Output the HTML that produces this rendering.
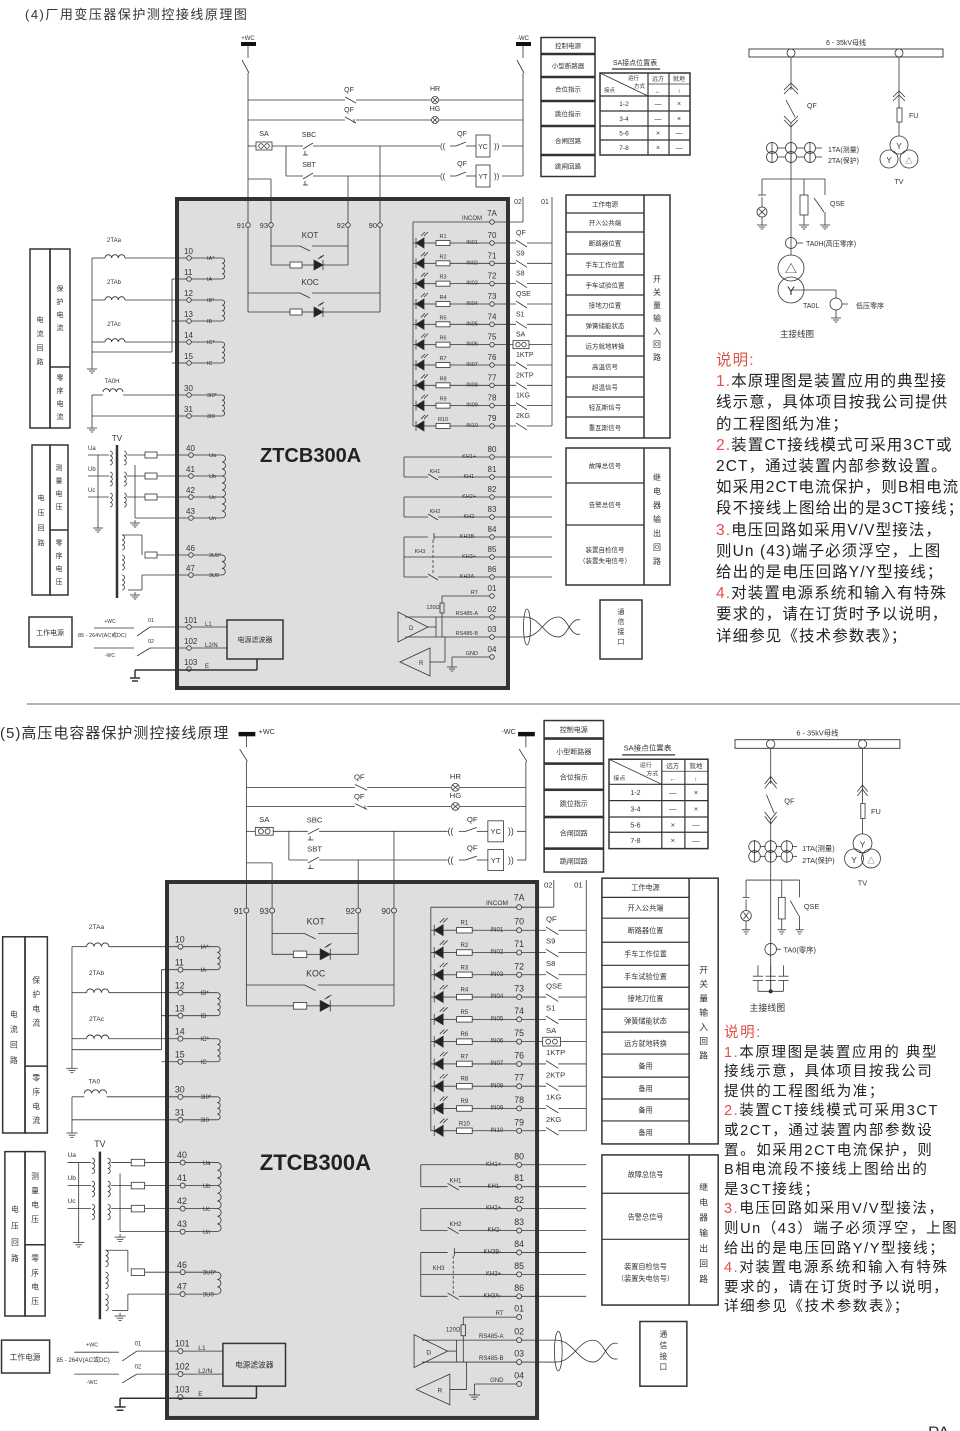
<!DOCTYPE html>
<html><head><meta charset="utf-8">
<style>
html,body{margin:0;padding:0;background:#fff;}
svg{display:block;font-family:"Liberation Sans","Noto Sans CJK SC",sans-serif;}
.n{position:absolute;font-family:"Liberation Sans","Noto Sans CJK SC",sans-serif;color:#222;white-space:pre;}
.r{color:#e0504a;}
</style></head>
<body>
<div style="position:relative;width:960px;height:1431px;overflow:hidden;">
<svg id="s" width="960" height="1431" viewBox="0 0 960 1431" xmlns="http://www.w3.org/2000/svg">
<text x="25" y="19" font-size="13" fill="#333" letter-spacing="1.5">(4)厂用变压器保护测控接线原理图</text>
<line x1="27" y1="704" x2="960" y2="704" stroke="#999" stroke-width="1.5"/>
<text x="0" y="738" font-size="15" fill="#333" letter-spacing="1">(5)高压电容器保护测控接线原理</text>
<text x="928" y="1438" font-size="17" fill="#333">PA</text>
</svg>
<div class="n" style="left:716px;top:350px;font-size:15.5px;line-height:21.2px;letter-spacing:1.1px;"><span class="r">说明:</span>
<span class="r">1.</span>本原理图是装置应用的典型接
线示意，具体项目按我公司提供
的工程图纸为准；
<span class="r">2.</span>装置CT接线模式可采用3CT或
2CT，通过装置内部参数设置。
如采用2CT电流保护，则B相电流
段不接线上图给出的是3CT接线；
<span class="r">3.</span>电压回路如采用V/V型接法，
则Un (43)端子必须浮空，上图
给出的是电压回路Y/Y型接线；
<span class="r">4.</span>对装置电源系统和输入有特殊
要求的，请在订货时予以说明，
详细参见《技术参数表》；</div>
<div class="n" style="left:724px;top:1024px;font-size:14.5px;line-height:19.6px;letter-spacing:1.6px;"><span class="r">说明:</span>
<span class="r">1.</span>本原理图是装置应用的 典型
接线示意，具体项目按我公司
提供的工程图纸为准；
<span class="r">2.</span>装置CT接线模式可采用3CT
或2CT，通过装置内部参数设
置。如采用2CT电流保护，则
B相电流段不接线上图给出的
是3CT接线；
<span class="r">3.</span>电压回路如采用V/V型接法，
则Un（43）端子必须浮空，上图
给出的是电压回路Y/Y型接线；
<span class="r">4.</span>对装置电源系统和输入有特殊
要求的，请在订货时予以说明，
详细参见《技术参数表》；</div>
</div>
<script>
const NS='http://www.w3.org/2000/svg',svg=document.getElementById('s');
function el(t,a,x){const e=document.createElementNS(NS,t);for(const k in a)e.setAttribute(k,a[k]);if(x!=null)e.textContent=x;svg.appendChild(e);return e;}
function mk(X,Y,k){
 const o={};
 o.L=(a,b,c,d,w,dash)=>{const at={x1:X(a),y1:Y(b),x2:X(c),y2:Y(d),stroke:'#333','stroke-width':w||0.8};if(dash)at['stroke-dasharray']=dash;return el('line',at);};
 o.R=(x,y,w,h,sw,f)=>el('rect',{x:X(x),y:Y(y),width:X(x+w)-X(x),height:Y(y+h)-Y(y),fill:f||'none',stroke:'#333','stroke-width':sw||0.8});
 o.C=(x,y,r,f,sw)=>el('circle',{cx:X(x),cy:Y(y),r:r*k,fill:f||'none',stroke:'#333','stroke-width':sw||0.8});
 o.T=(x,y,s,fs,an,ex)=>{const at={x:X(x),y:Y(y),'font-size':fs*k,'text-anchor':an||'start',fill:'#333'};if(ex)Object.assign(at,ex);return el('text',at,s);};
 o.V=(x,y,s,fs,st)=>{for(let i=0;i<s.length;i++)o.T(x,y+i*st,s[i],fs,'middle');};
 o.PG=(pts,f)=>el('polygon',{points:pts.map(p=>X(p[0])+','+Y(p[1])).join(' '),fill:f||'none',stroke:'#333','stroke-width':0.8});
 o.coil=(x,y1,y2,n)=>{n=n||4;const d=(Y(y2)-Y(y1))/n;let p='M'+X(x)+','+Y(y1);for(let i=0;i<n;i++)p+=' a'+d/2+','+d/2+' 0 0 1 0,'+d;el('path',{d:p,fill:'none',stroke:'#333','stroke-width':0.8});};
 o.ct=(x,y,n)=>{n=n||3;const w=(X(x+20)-X(x))/n;let p='M'+X(x)+','+Y(y);for(let i=0;i<n;i++)p+=' a'+w/2+','+w/2+' 0 0 1 '+w+',0';el('path',{d:p,fill:'none',stroke:'#333','stroke-width':0.9});};
 o.G=(x,y)=>{o.L(x,y,x,y+3);o.L(x-5,y+3,x+5,y+3);o.L(x-3,y+5,x+3,y+5);o.L(x-1.3,y+7,x+1.3,y+7);};
 return o;
}
function panel(X,Y,k,b){
 const {L,R,C,T,V,PG,coil,ct,G}=mk(X,Y,k);
 const RW=b?498:523, s=b?-12:0;
 R(177,199,331,489,4,'#dedede');
 el('rect',{x:X(241),y:Y(42),width:X(256)-X(241),height:4*k,fill:'#111'});
 el('rect',{x:X(RW-7),y:Y(42),width:X(RW+8)-X(RW-7),height:4*k,fill:'#111'});
 if(!b){T(248,40,'+WC',6,'middle');T(RW,40,'-WC',6,'middle');}
 else{T(259,44,'+WC',6.5);T(RW-9,44,'-WC',6.5,'end');}
 L(248,46,248,58);L(242,60,249,73);L(248,73,248,312);
 L(RW,46,RW,58);L(RW-6,60,RW+1,73);L(RW,73,RW,176);
 [[100,'HR'],[120,'HG']].forEach(([y,h],i)=>{L(248,y,345,y);L(345,y-3,356,y+3);if(i)L(354,y+3,354,y-1);L(356,y,431,y);C(435,y,3.5);L(432.5,y-2.5,437.5,y+2.5);L(432.5,y+2.5,437.5,y-2.5);L(439,y,RW,y);T(349,y-8,'QF',7,'middle');T(435,y-9,h,7,'middle');});
 L(248,146,256,146);R(256,142,16,8,0.8,'#fff');C(261,146,2.3);C(267,146,2.3);T(264,136,'SA',7,'middle');
 L(272,146,303,146);L(303,149,313,143);L(305,151,305,155);L(303,155,308,155);T(309,137,'SBC',7,'middle');
 [[146,'YC',135],[176,'YT',165]].forEach(([y,t,yt])=>{L(313,y,440+s,y);T(440+s,y+3,'((',8);L(450+s,y,456+s,y);L(456+s,y,466+s,y-4);L(466+s,y,476+s,y);T(462+s,yt+1,'QF',7,'middle');
  R(476+s,yt,14,22,0.8,'#fff');T(483+s,y+3,t,7,'middle');T(494+s,y+3,'))',8);L(502+s,y,RW,y);});
 L(286,146,286,176);L(286,176,303,176);L(303,179,313,173);L(305,181,305,185);L(303,185,308,185);T(309,167,'SBT',7,'middle');
 L(380,146,380,312);L(348,176,348,265);L(248,179,271,179);L(271,179,271,265);
 [[248,'91'],[271,'93'],[348,'92'],[380,'90']].forEach(([x,t])=>{C(x,225,2.3,'#dedede');T(x-3,228,t,7.5,'end');});
 const rel=(x1,x2,y,yd,lab)=>{L(x1,y,300,y);L(300,y,310,y+5);L(312,y,x2,y);T(310,y-8,lab,8,'middle');
  L(x1,yd,290,yd);R(290,yd-3,12,6,0.8,'#fff');L(302,yd,314,yd);PG([[314,yd-5],[314,yd+5],[323,yd]],'#222');L(323,yd-5,323,yd+5);L(323,yd,x2,yd);L(320,yd-7,324,yd-10);L(318,yd-6,322,yd-9);};
 rel(271,348,246,265,'KOT');rel(248,380,293,312,'KOC');
 const cur=[[10,258,'IA*'],[11,279,'IA'],[12,300,'IB*'],[13,321,'IB'],[14,342,'IC*'],[15,363,'IC']];
 cur.forEach(([n,y,s])=>{C(189,y,2.3,'#dedede');T(184,y-4,String(n),8);T(207,y+2,s,5.5);L(191,y,222,y);});
 coil(222,258,279);coil(222,300,321);coil(222,342,363);
 [[258,'2TAa'],[300,'2TAb'],[342,'2TAc']].forEach(([y,t])=>{L(92,y,105,y);ct(105,y);L(125,y,187,y);T(114,y-16,t,6,'middle');});
 L(92,258,92,366);G(92,366);L(92,352,172,352);L(172,279,172,352);L(172,279,187,279);L(172,321,187,321);L(172,363,187,363);
 C(189,395,2.3,'#dedede');T(184,391,'30',8);T(207,397,'3I0*',5.5);C(189,416,2.3,'#dedede');T(184,412,'31',8);T(207,418,'3I0',5.5);
 L(191,395,222,395);L(191,416,222,416);coil(222,395,416);
 L(92,395,103,395);ct(103,392);L(123,395,187,395);T(112,383,b?'TA0':'TA0H',6,'middle');L(92,395,92,425);L(92,416,187,416);G(92,425);
 R(30,249,20,179,1.5);R(50,249,20,179,1.5);L(50,367,70,367,1.5);
 V(40,322,'电流回路',7,14);V(60,291,'保护电流',7,13);V(60,380,'零序电流',7,13);
 R(32,445,18,150,1.5);R(50,445,18,150,1.5);L(50,530,68,530,1.5);
 V(41,500,'电压回路',7,15);V(59,470,'测量电压',7,13);V(59,545,'零序电压',7,13);
 L(117,445,117,598,2.5);T(117,441,'TV',8,'middle');
 const vr=[[40,455,'Ua'],[41,476,'Ub'],[42,497,'Uc'],[43,518,'Un'],[46,555,'3U0*'],[47,575,'3U0']];
 vr.forEach(([n,y,s])=>{C(191,y,2.3,'#dedede');T(186,y-4,String(n),8);T(209,y+2,s,5.5);L(193,y,222,y);});
 coil(222,455,476,3);coil(222,476,497,3);coil(222,497,518,3);coil(222,555,575,3);
 [[455,'Ua'],[476,'Ub'],[497,'Uc']].forEach(([y,s])=>{T(88,y-5,s,6);L(88,y,109,y);coil(110,y-4,y+10,3);coil(124,y-4,y+10,3);L(127,y,145,y);R(145,y-3,12,6,0.8,'#fff');L(157,y,189,y);});
 L(98,455,98,525);G(98,525);L(135,465,135,518);L(135,518,189,518);G(135,520);
 coil(122,535,550,3);coil(122,555,570,3);coil(122,575,590,3);L(122,535,142,535);L(142,535,142,555);R(145,552,12,6,0.8,'#fff');L(157,555,189,555);L(142,575,189,575);L(128,590,142,590);L(142,575,142,590);G(135,592);
 [[101,627,'L1'],[102,648,'L2/N'],[103,669,'E']].forEach(([n,y,s])=>{C(189,y,2.3,'#dedede');T(184,y-4,String(n),8);T(205,y-1,s,6);});
 L(191,627,227,627);L(191,648,227,648);R(227,620,56,39,1.5,'#dedede');T(255,642,'电源滤波器',7,'middle');
 L(257,659,257,670,1.5);L(135,670,257,670,1.5);L(135,670,135,678,1.5);L(130,678,140,678,1.5);L(132,681,138,681,1.5);
 R(29,617,43,30,1.5);T(50,635,'工作电源',7,'middle');
 T(110,623,'+WC',5,'middle');L(94,628,134,628);T(78,637,'85 - 264V(AC或DC)',5.5);L(94,648,134,648);T(110,657,'-WC',5,'middle');
 L(137,636,150,627);L(150,627,187,627);T(148,622,'01',5.5);L(137,656,150,648);L(150,648,187,648);T(148,643,'02',5.5);
 T(260,462,'ZTCB300A',20,'start',{'font-weight':'bold',fill:'#222'});
 C(492,222,2.3,'#dedede');T(482,220,'INCOM',6,'end');T(492,216,'7A',8,'middle');
 L(413,222,490,222);L(494,222,523,222);L(523,197,523,222);T(518,204,'02',7,'middle');T(545,204,'01',7,'middle');L(552,197,552,426);
 L(413,222,413,426);
 const sws=['QF','S9','S8','QSE','S1','SA','1KTP','2KTP','1KG','2KG'];
 for(let i=0;i<10;i++){const y=243+i*20.33;
  PG([[424,y-5],[424,y+5],[416,y]],'#222');L(416,y-5,416,y+5);L(421,y-7,425,y-11);L(424,y-7,428,y-11);
  L(413,y,416,y);L(424,y,436,y);R(436,y-2.5,14,5,0.8,'#fff');T(443,y-5,'R'+(i+1),5.5,'middle');L(450,y,490,y);
  T(472,y+1,'IN'+String(i+1).padStart(2,'0'),5.5,'middle');C(492,y,2.3,'#dedede');T(492,y-5,String(70+i),8,'middle');
  if(i==5){L(494,y,513,y);R(513,y-4,16,8,0.8,'#fff');C(518,y,2.2);C(524,y,2.2);L(529,y,552,y);}
  else{L(494,y,516,y);L(516,y-3,527,y+4);L(527,y,552,y);}
  T(516,y-8,sws[i],7);}
 const lab1=b?['工作电源','开入公共端','断路器位置','手车工作位置','手车试验位置','接地刀位置','弹簧储能状态','远方就地转换','备用','备用','备用','备用']:['工作电源','开入公共端','断路器位置','手车工作位置','手车试验位置','接地刀位置','弹簧储能状态','远方就地转换','高温信号','超温信号','轻瓦斯信号','重瓦斯信号'];
 const rb=[195,213,232,254,275,295,315,336,356,377,397,417,438];
 R(566,195,104,243,1.5);L(644,195,644,438,1.5);
 for(let i=0;i<12;i++){if(i)L(566,rb[i],644,rb[i],1.2);T(605,(rb[i]+rb[i+1])/2+2.5,lab1[i],6.5,'middle');}
 V(657,282,'开关量输入回路',8,13);
 const rl=['KH1+','KH1-','KH2+','KH2-','KH3B-','KH3+','KH3A-'];
 for(let i=0;i<7;i++){const y=457+i*20;C(492,y,2.3,'#dedede');T(492,y-5,String(80+i),8,'middle');T(476,y+1,rl[i],5.5,'end');L(494,y,552,y);}
 L(404,457,490,457);L(404,457,404,477);L(404,477,428,477);L(428,474,438,480);L(438,477,490,477);T(435,473,'KH1',5.5,'middle');
 L(404,497,490,497);L(404,497,404,517);L(404,517,428,517);L(428,514,438,520);L(438,517,490,517);T(435,513,'KH2',5.5,'middle');
 L(404,537,404,577);L(404,537,428,537);L(434,533,434,540);L(434,537,490,537);L(404,557,490,557);L(404,577,428,577);L(428,574,438,580);L(438,577,490,577);L(433,540,433,575,0.8,'3,2');T(420,553,'KH3',5.5,'middle');
 R(566,448,104,137,1.5);L(644,448,644,585,1.5);L(566,483,644,483,1.2);L(566,525,644,525,1.2);
 T(605,468,'故障总信号',6.5,'middle');T(605,507,'告警总信号',6.5,'middle');T(605,552,'装置自检信号',6.5,'middle');T(605,563,'（装置失电信号）',6.5,'middle');
 V(657,480,'继电器输出回路',8,14);
 [[596,'01','RT'],[617,'02','RS485-A'],[637,'03','RS485-B'],[657,'04','GND']].forEach(([y,n,s])=>{C(492,y,2.3,'#dedede');T(492,y-5,n,8,'middle');T(478,y-2,s,5.5,'end');});
 L(442,596,490,596);L(442,596,442,603);R(440,603,4,10);L(442,613,442,637);T(433,609,'120Ω',5.5,'middle');
 L(405,617,490,617);L(494,617,525,617);L(405,637,490,637);L(494,637,525,637);
 PG([[398,612],[398,642],[428,627]]);T(409,630,'D',6);PG([[430,648],[430,676],[400,662]]);T(419,665,'R',6);
 L(428,627,436,627);L(436,617,436,637);L(430,662,445,662);L(445,637,445,662);
 L(452,657,490,657);L(452,657,452,664);G(452,664);
 el('ellipse',{cx:X(527),cy:Y(627),rx:3.5*k,ry:18*k,fill:'none',stroke:'#333','stroke-width':0.8});
 el('path',{d:`M${X(525)},${Y(617)} C${X(540)},${Y(617)} ${X(545)},${Y(637)} ${X(558)},${Y(637)} C${X(568)},${Y(637)} ${X(570)},${Y(617)} ${X(580)},${Y(620)}`,fill:'none',stroke:'#333','stroke-width':0.8});
 el('path',{d:`M${X(525)},${Y(637)} C${X(540)},${Y(637)} ${X(545)},${Y(617)} ${X(558)},${Y(617)} C${X(568)},${Y(617)} ${X(570)},${Y(637)} ${X(580)},${Y(634)}`,fill:'none',stroke:'#333','stroke-width':0.8});
 R(600,600,42,59,1.5);V(621,614,'通信接口',7,10);
}
function topRight(X,Y,k){
 const {L,R,T}=mk(X,Y,k);
 const bb=[37,54,77,101,126,155,177],lb=['控制电源','小型断路器','合位指示','跳位指示','合闸回路','跳闸回路'];
 for(let i=0;i<6;i++){R(541,bb[i]+0.5,54,bb[i+1]-bb[i]-1,1.5);T(568,(bb[i]+bb[i+1])/2+2.5,lb[i],6.5,'middle');}
 T(635,65,'SA接点位置表',7,'middle');L(612,69,660,69,1.2);
 R(600,73,90,82,1.5);L(648,73,648,155,1.2);L(669,73,669,155,1.2);L(648,84,690,84);
 [96,111,126,140].forEach(y=>L(600,y,690,y,1.2));L(600,73,648,96);
 T(628,80,'运行',5.5);T(634,88,'方式',5.5);T(604,92,'接点',5.5);T(658,81,'远方',6,'middle');T(679,81,'就地',6,'middle');T(658,93,'←',6,'middle');T(679,93,'↑',6,'middle');
 const rr=[['1-2','—','×'],['3-4','—','×'],['5-6','×','—'],['7-8','×','—']],ry=[96,111,126,140,155];
 rr.forEach((r,i)=>{const y=(ry[i]+ry[i+1])/2+2.5;T(624,y,r[0],6.5,'middle');T(658,y,r[1],7,'middle');T(679,y,r[2],7,'middle');});
}
function mainw(X,Y,k,b){
 const {L,R,C,T,G}=mk(X,Y,k);
 R(749,49,194,8,0.9,'#fff');C(791,53,4,'#fff');C(899,53,4,'#fff');T(846,45,'6 - 35kV母线',7,'middle');
 L(791,57,791,90);L(784,90,791,83);L(791,83,798,90);L(784,94,791,87);L(791,87,798,94);
 L(786,100,795,117);T(807,108,'QF',7);L(784,116,791,123);L(791,123,798,116);L(784,120,791,127);L(791,127,798,120);L(791,123,791,b?282:255);
 [148,157].forEach(y=>{[772,791,810].forEach(x=>{C(x,y,5.5);L(x,y-6,x,y+6);});L(778,y,785,y);L(797,y,804,y);L(816,y,822,y);});
 T(828,152,'1TA(测量)',7);T(828,163,'2TA(保护)',7);
 L(762,179,825,179);L(762,179,762,195);L(758,195,766,195);L(762,197,762,207);C(762,212,5);L(759,209,765,215);L(759,215,765,209);L(762,217,762,222);G(762,222);
 L(804,179,804,195);R(800,195,8,20);L(804,215,804,222);G(804,222);L(825,179,825,195);L(814,198,824,212);L(825,212,825,222);G(825,222);T(830,206,'QSE',7);
 C(791,243,5.5);L(797,243,803,243);T(806,246,b?'TA0(零序)':'TA0H(高压零序)',7);
 L(899,57,899,108);L(893,97,899,91);L(899,91,905,97);L(893,101,899,95);L(899,95,905,101);R(897,108,5,14);L(899,122,899,136);T(909,118,'FU',7);
 C(899,145,9);C(889,159,9);C(909,159,9);T(899,149,'Y',8,'middle');T(889,163,'Y',8,'middle');T(909,163,'△',7,'middle');T(899,184,'TV',7,'middle');
 if(!b){C(791,268,13);C(791,290,13);T(791,273,'△',12,'middle');T(791,295,'Y',12,'middle');L(791,290,836,290);L(836,290,836,298);C(836,304,6);L(836,310,836,315);G(836,315);L(842,304,848,304);T(803,308,'TA0L',7);T(856,308,'低压零序',7);T(797,337,'主接线图',8.5,'middle');}
 else{[776,791,806].forEach(x=>{L(x,258,x,268);L(x-6,268,x+6,268);L(x-6,272,x+6,272);L(x,272,x,282);});L(776,282,806,282);C(791,282,1.5,'#333');T(787,300,'主接线图',8.5,'middle');}
}
const I=x=>x;
panel(I,I,1,false);
topRight(I,I,1);
mainw(I,I,1,false);
const Xb=x=>167+(x-177)*1.118, Yb=y=>y<199?730+(y-40)*(152/159):882+(y-199)*1.096;
panel(Xb,Yb,1.1,true);
topRight(x=>543+(x-540)*1.1,y=>720+(y-37)*1.09,1.08);
mainw(x=>735+(x-749)*0.85,y=>744+(y-53)*1.08,1.05,true);
</script>
</body></html>
